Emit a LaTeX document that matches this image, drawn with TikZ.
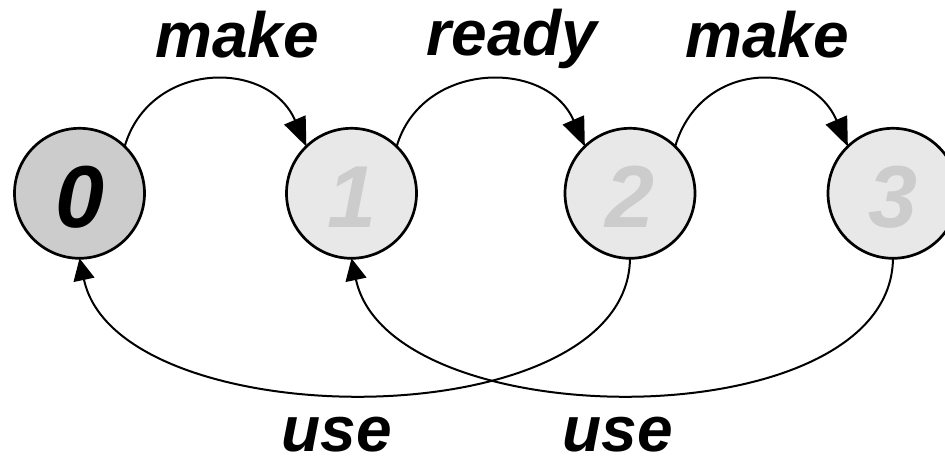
\documentclass[tikz,border=0pt]{standalone}
\usepackage{fontspec}
\setmainfont{Liberation Sans}
\usetikzlibrary{arrows.meta}

\definecolor{startfill}{HTML}{CCCCCC}
\definecolor{statefill}{HTML}{E8E8E8}
\definecolor{statetext}{HTML}{CCCCCC}

\tikzset{
  state/.style={circle, draw=black, line width=2.7pt, minimum size=130pt,
    inner sep=0pt, outer sep=0pt, fill=statefill, text=statetext,
    font=\fontsize{88}{88}\selectfont\bfseries\itshape,
    text height=69pt, text depth=0pt},
  startstate/.style={state, fill=startfill, text=black},
  edgelabel/.style={anchor=base, inner sep=0pt,
    font=\fontsize{64}{64}\selectfont\bfseries\itshape},
  fwd/.style={draw=black, line width=2pt,
    -{Triangle[length=29pt,width=23pt]}},
  back/.style={draw=black, line width=2pt,
    -{Triangle[length=22pt,width=21pt]}}
}

\begin{document}
\begin{tikzpicture}[x=1pt,y=-1pt]
  \useasboundingbox (0,0) rectangle (945,458);

  % states
  \node[startstate] (n0) at (79.5,193.3) {0};
  \node[state]      (n1) at (351.5,193.3) {1};
  \node[state]      (n2) at (630,193.3) {2};
  \node[state]      (n3) at (893,193.3) {3};

  % forward transitions over the top
  \draw[fwd] (n0.46) .. controls +(25,-86) and +(-38,-88) .. (n1.134);
  \draw[fwd] (n1.46) .. controls +(25,-86) and +(-38,-88) .. (n2.134);
  \draw[fwd] (n2.46) .. controls +(25,-86) and +(-38,-88) .. (n3.134);

  % return transitions underneath
  \draw[back] (n2.south) .. controls +(-2,182) and +(38,180) .. (n0.south);
  \draw[back] (n3.south) .. controls +(-2,182) and +(38,180) .. (n1.south);

  % transition labels
  \node[edgelabel] (lmake1) at (237,57) {make};
  \node[edgelabel] (lready) at (512,55) {ready};
  \node[edgelabel] (lmake2) at (767,57) {make};
  \node[edgelabel] (luse1)  at (337,451) {use};
  \node[edgelabel] (luse2)  at (618,451) {use};
\end{tikzpicture}
\end{document}
